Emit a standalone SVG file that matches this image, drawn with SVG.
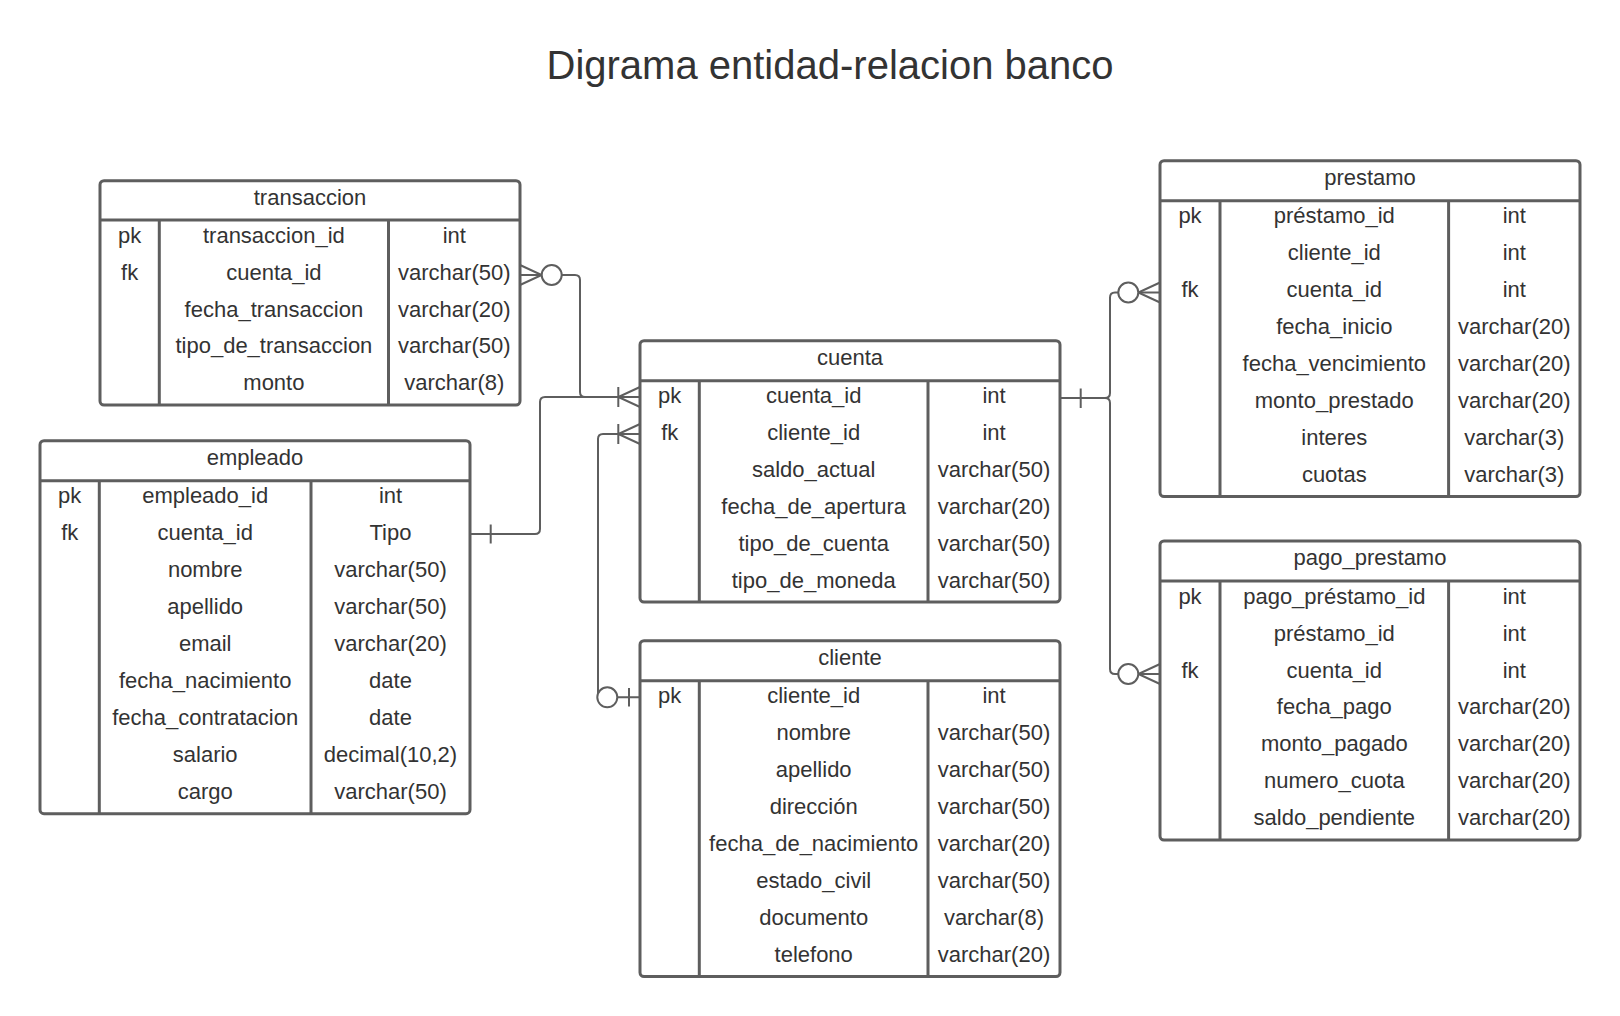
<svg xmlns="http://www.w3.org/2000/svg" width="1620" height="1016" viewBox="0 0 1620 1016">
<style>
.box{fill:#fff;stroke:#5e5e5e;stroke-width:3}
.ln{fill:none;stroke:#5e5e5e;stroke-width:3}
.c{fill:none;stroke:#5e5e5e;stroke-width:2}
.cw{fill:#fff;stroke:#5e5e5e;stroke-width:2}
text{font-family:"Liberation Sans",Arial,sans-serif;font-size:22px;fill:#333;text-anchor:middle}
.t{font-size:40px}
</style>
<rect width="1620" height="1016" fill="#fff"/>
<text class="t" x="830" y="79">Digrama entidad-relacion banco</text>

<g id="connectors">
<path class="c" d="M520,275 H541.7 M520,265 L541.7,275 L520,285"/>
<path class="c" d="M561.7,275 H575 Q580,275 580,280 V392 Q580,397 585,397 H640"/>
<circle class="cw" cx="551.7" cy="275" r="10"/>
<path class="c" d="M470,534 H535 Q540,534 540,529 V402 Q540,397 545,397 H640"/>
<path class="c" d="M490.7,524.5 V543.5"/>
<path class="c" d="M640,387 L618.3,397 L640,407 M618.3,387 V407"/>
<path class="c" d="M640,434 H603 Q598,434 598,439 V692.3 Q598,697.3 603,697.3 H640"/>
<path class="c" d="M640,424 L618.3,434 L640,444 M618.3,424 V444"/>
<circle class="cw" cx="607.3" cy="697.3" r="10"/>
<path class="c" d="M629,688 V706.5"/>
<path class="c" d="M1060,398 H1105 Q1110,398 1110,393 V297.5 Q1110,292.5 1115,292.5 H1160"/>
<path class="c" d="M1105,398 Q1110,398 1110,403 V669 Q1110,674 1115,674 H1160"/>
<path class="c" d="M1080.7,388.5 V408"/>
<path class="c" d="M1160,282.5 L1138.3,292.5 L1160,302.5"/>
<circle class="cw" cx="1128.3" cy="292.5" r="10"/>
<path class="c" d="M1160,664 L1138.3,674 L1160,684"/>
<circle class="cw" cx="1128.3" cy="674" r="10"/>
</g>

<g id="transaccion">
<rect class="box" x="100" y="180.7" width="420" height="224.3" rx="4"/>
<path class="ln" d="M100,220 H520 M159.3,220 V405 M388.5,220 V405"/>
<text x="310" y="204.5">transaccion</text>
<text x="129.6" y="242.7">pk</text><text x="273.9" y="242.7">transaccion_id</text><text x="454.3" y="242.7">int</text>
<text x="129.6" y="279.6">fk</text><text x="273.9" y="279.6">cuenta_id</text><text x="454.3" y="279.6">varchar(50)</text>
<text x="273.9" y="316.5">fecha_transaccion</text><text x="454.3" y="316.5">varchar(20)</text>
<text x="273.9" y="353.4">tipo_de_transaccion</text><text x="454.3" y="353.4">varchar(50)</text>
<text x="273.9" y="390.3">monto</text><text x="454.3" y="390.3">varchar(8)</text>
</g>

<g id="empleado">
<rect class="box" x="40" y="440.7" width="430" height="373" rx="4"/>
<path class="ln" d="M40,480.7 H470 M99.3,480.7 V813.7 M311,480.7 V813.7"/>
<text x="255" y="465">empleado</text>
<text x="69.7" y="503.4">pk</text><text x="205.2" y="503.4">empleado_id</text><text x="390.5" y="503.4">int</text>
<text x="69.7" y="540.3">fk</text><text x="205.2" y="540.3">cuenta_id</text><text x="390.5" y="540.3">Tipo</text>
<text x="205.2" y="577.2">nombre</text><text x="390.5" y="577.2">varchar(50)</text>
<text x="205.2" y="614.1">apellido</text><text x="390.5" y="614.1">varchar(50)</text>
<text x="205.2" y="651">email</text><text x="390.5" y="651">varchar(20)</text>
<text x="205.2" y="687.9">fecha_nacimiento</text><text x="390.5" y="687.9">date</text>
<text x="205.2" y="724.8">fecha_contratacion</text><text x="390.5" y="724.8">date</text>
<text x="205.2" y="761.7">salario</text><text x="390.5" y="761.7">decimal(10,2)</text>
<text x="205.2" y="798.6">cargo</text><text x="390.5" y="798.6">varchar(50)</text>
</g>

<g id="cuenta">
<rect class="box" x="640" y="340.7" width="420" height="261.3" rx="4"/>
<path class="ln" d="M640,380.7 H1060 M699.3,380.7 V602 M928,380.7 V602"/>
<text x="850" y="365">cuenta</text>
<text x="669.7" y="403.4">pk</text><text x="813.7" y="403.4">cuenta_id</text><text x="994" y="403.4">int</text>
<text x="669.7" y="440.3">fk</text><text x="813.7" y="440.3">cliente_id</text><text x="994" y="440.3">int</text>
<text x="813.7" y="477.2">saldo_actual</text><text x="994" y="477.2">varchar(50)</text>
<text x="813.7" y="514.1">fecha_de_apertura</text><text x="994" y="514.1">varchar(20)</text>
<text x="813.7" y="551">tipo_de_cuenta</text><text x="994" y="551">varchar(50)</text>
<text x="813.7" y="587.9">tipo_de_moneda</text><text x="994" y="587.9">varchar(50)</text>
</g>

<g id="cliente">
<rect class="box" x="640" y="640.7" width="420" height="335.8" rx="4"/>
<path class="ln" d="M640,680.7 H1060 M699.3,680.7 V976.5 M928,680.7 V976.5"/>
<text x="850" y="665">cliente</text>
<text x="669.7" y="703.4">pk</text><text x="813.7" y="703.4">cliente_id</text><text x="994" y="703.4">int</text>
<text x="813.7" y="740.3">nombre</text><text x="994" y="740.3">varchar(50)</text>
<text x="813.7" y="777.2">apellido</text><text x="994" y="777.2">varchar(50)</text>
<text x="813.7" y="814.1">dirección</text><text x="994" y="814.1">varchar(50)</text>
<text x="813.7" y="851">fecha_de_nacimiento</text><text x="994" y="851">varchar(20)</text>
<text x="813.7" y="887.9">estado_civil</text><text x="994" y="887.9">varchar(50)</text>
<text x="813.7" y="924.8">documento</text><text x="994" y="924.8">varchar(8)</text>
<text x="813.7" y="961.7">telefono</text><text x="994" y="961.7">varchar(20)</text>
</g>

<g id="prestamo">
<rect class="box" x="1160" y="160.7" width="420" height="335.8" rx="4"/>
<path class="ln" d="M1160,200.7 H1580 M1220,200.7 V496.5 M1448.6,200.7 V496.5"/>
<text x="1370" y="185">prestamo</text>
<text x="1190" y="223.4">pk</text><text x="1334.3" y="223.4">préstamo_id</text><text x="1514.3" y="223.4">int</text>
<text x="1334.3" y="260.3">cliente_id</text><text x="1514.3" y="260.3">int</text>
<text x="1190" y="297.2">fk</text><text x="1334.3" y="297.2">cuenta_id</text><text x="1514.3" y="297.2">int</text>
<text x="1334.3" y="334.1">fecha_inicio</text><text x="1514.3" y="334.1">varchar(20)</text>
<text x="1334.3" y="371">fecha_vencimiento</text><text x="1514.3" y="371">varchar(20)</text>
<text x="1334.3" y="407.9">monto_prestado</text><text x="1514.3" y="407.9">varchar(20)</text>
<text x="1334.3" y="444.8">interes</text><text x="1514.3" y="444.8">varchar(3)</text>
<text x="1334.3" y="481.7">cuotas</text><text x="1514.3" y="481.7">varchar(3)</text>
</g>

<g id="pago_prestamo">
<rect class="box" x="1160" y="541" width="420" height="299" rx="4"/>
<path class="ln" d="M1160,581 H1580 M1220,581 V840 M1448.6,581 V840"/>
<text x="1370" y="565.3">pago_prestamo</text>
<text x="1190" y="603.7">pk</text><text x="1334.3" y="603.7">pago_préstamo_id</text><text x="1514.3" y="603.7">int</text>
<text x="1334.3" y="640.6">préstamo_id</text><text x="1514.3" y="640.6">int</text>
<text x="1190" y="677.5">fk</text><text x="1334.3" y="677.5">cuenta_id</text><text x="1514.3" y="677.5">int</text>
<text x="1334.3" y="714.4">fecha_pago</text><text x="1514.3" y="714.4">varchar(20)</text>
<text x="1334.3" y="751.3">monto_pagado</text><text x="1514.3" y="751.3">varchar(20)</text>
<text x="1334.3" y="788.2">numero_cuota</text><text x="1514.3" y="788.2">varchar(20)</text>
<text x="1334.3" y="825.1">saldo_pendiente</text><text x="1514.3" y="825.1">varchar(20)</text>
</g>
</svg>
